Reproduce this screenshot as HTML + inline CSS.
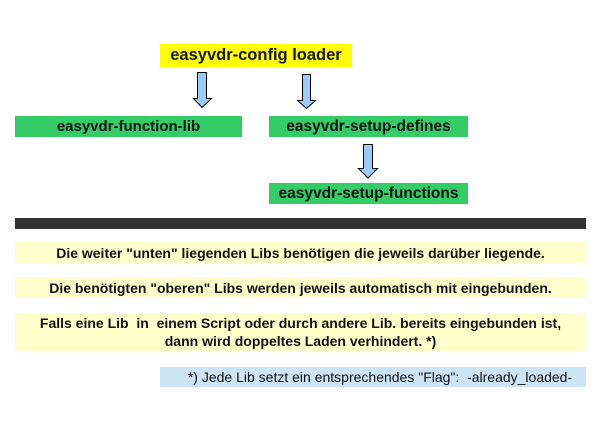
<!DOCTYPE html>
<html><head><style>
body{margin:0;width:616px;height:433px;background:#fff;position:relative;font-family:"Liberation Sans",Arial,sans-serif;overflow:hidden}
.b{position:absolute;display:flex;align-items:center;justify-content:center;font-weight:bold;color:#111;text-align:center;white-space:nowrap}
</style></head><body>
<div class="b" style="left:160px;top:44px;width:192px;height:23px;background:#ffff00;font-size:16.5px">easyvdr-config loader</div>
<div class="b" style="left:15px;top:116px;width:227px;height:21px;background:#33cc66;font-size:15px">easyvdr-function-lib</div>
<div class="b" style="left:269px;top:116px;width:199px;height:21px;background:#33cc66;font-size:15.5px">easyvdr-setup-defines</div>
<div class="b" style="left:269px;top:183px;width:199px;height:21px;background:#33cc66;font-size:15.5px">easyvdr-setup-functions</div>
<svg style="position:absolute;left:0;top:0" width="616" height="433">
<g fill="#99ccff" stroke="#000" stroke-width="1">
<path d="M197.5 72.5 H206.5 V98.5 H211.5 L202 107.5 L193.5 98.5 H197.5 Z"/>
<path d="M302.5 74.5 H310.5 V100.5 H315.5 L306.5 108.5 L297.5 100.5 H302.5 Z"/>
<path d="M363.5 144.5 H372.5 V168.5 H377.5 L368 178 L358.5 168.5 H363.5 Z"/>
</g>
<rect x="15" y="218" width="571" height="11" fill="#333"/>
</svg>
<div class="b" style="left:15px;top:242px;width:571px;height:21px;background:#ffffcc;font-size:14px">Die weiter "unten" liegenden Libs benötigen die jeweils darüber liegende.</div>
<div class="b" style="left:15px;top:277px;width:571px;height:21px;background:#ffffcc;font-size:14px">Die benötigten "oberen" Libs werden jeweils automatisch mit eingebunden.</div>
<div class="b" style="left:15px;top:313px;width:571px;height:38px;background:#ffffcc;font-size:14px;line-height:18px">Falls eine Lib &nbsp;in &nbsp;einem Script oder durch andere Lib. bereits eingebunden ist,<br>dann wird doppeltes Laden verhindert. *)</div>
<div class="b" style="left:160px;top:367px;width:426px;height:20px;background:#cce4f4;font-size:14px;font-weight:normal;padding-left:14px;box-sizing:border-box">*) Jede Lib setzt ein entsprechendes "Flag": &nbsp;-already_loaded-</div>
</body></html>
